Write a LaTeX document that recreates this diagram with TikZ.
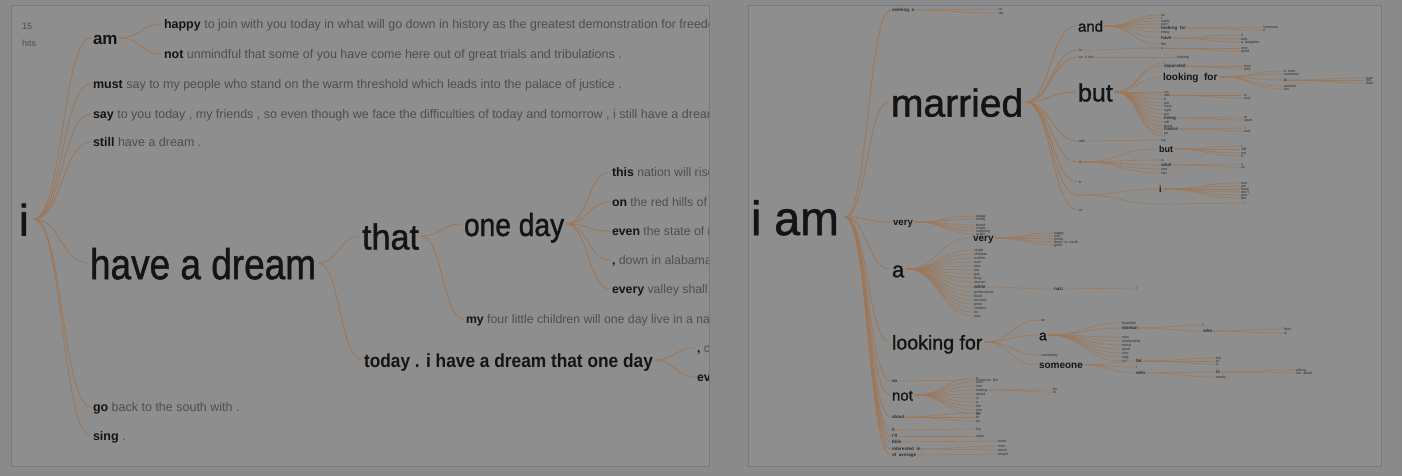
\documentclass[tikz,border=0pt]{standalone}
\usepackage{fontspec}
\setmainfont{Liberation Sans}
\newfontfamily\heavy[FakeBold=1.2]{Liberation Sans}
\usepackage{graphicx}
\usetikzlibrary{calc}
\definecolor{bg}{HTML}{8A8A8A}
\definecolor{panel}{HTML}{8E8E8E}
\definecolor{frame}{HTML}{6C7C8C}
\definecolor{brc}{HTML}{9E7757}
\definecolor{kw}{HTML}{141414}
\definecolor{ctc}{HTML}{4E4E4E}
\definecolor{tk}{HTML}{2E2E2E}
\newcommand\hx[2]{\scalebox{#1}[1]{#2}}
\newcommand\ct[1]{\textcolor{ctc}{\mdseries #1}}
\newcommand\fan[6]{\foreach \yy/\lbl [count=\k] in {#5}{\node[#4] (#3\k) at (#2,\yy) {\lbl}; \draw[#6] (#1.east) to[wt] (#3\k.west);}}
\tikzset{
 w/.style={anchor=west,inner sep=0pt,outer xsep=2pt,execute at begin node={\rule{0pt}{0.75em}},text depth=0pt,text=kw},
 fs/.style={font=\fontsize{#1}{#1}\selectfont},
 fh/.style={font=\heavy\fontsize{#1}{#1}\selectfont},
 fb/.style={font=\fontsize{#1}{#1}\selectfont\bfseries},
 tny/.style={anchor=west,inner sep=0pt,outer xsep=1pt,font=\fontsize{3.6}{3.6}\selectfont,text=tk,text height=2.7pt,text depth=0pt},
 tnyb/.style={tny,font=\fontsize{4.6}{4.6}\selectfont\bfseries,text height=3.4pt},
 br/.style={draw=brc,line width=0.9pt},
 thin/.style={draw=brc,line width=0.6pt},
 wt/.style={to path={let \p1=(\tikztostart),\p2=(\tikztotarget) in .. controls ({0.5*\x1+0.5*\x2},\y1) and ({0.5*\x1+0.5*\x2},\y2) .. (\tikztotarget)}},
}
\begin{document}
\begin{tikzpicture}[x=1pt,y=-1pt]
\useasboundingbox (0,0) rectangle (1402,476);
\fill[bg] (0,0) rectangle (1402,476);
\filldraw[fill=panel,draw=frame,line width=1pt] (11.5,5.5) rectangle (709,466.5);
\filldraw[fill=panel,draw=frame,line width=1pt] (748,5.5) rectangle (1381,466.5);
% ---------------- left panel ----------------
\begin{scope}
\clip (12,6) rectangle (708.5,466);
\node[w,fs=9,text=ctc] (n15) at (20,26) {15};
\node[w,fs=9,text=ctc] (hits) at (20,43) {hits};
\node[w,fh=44,outer xsep=5pt] (i) at (14,219) {i};
\node[w,fb=17] (am) at (91,38) {am};
\node[w,fb=12.5] (happy) at (162,24) {happy\ct{ to join with you today in what will go down in history as the greatest demonstration for freedom in the history of our nation .}};
\node[w,fb=12.5] (not) at (162,54) {not\ct{ unmindful that some of you have come here out of great trials and tribulations .}};
\node[w,fb=12.5] (must) at (91,84) {must\ct{ say to my people who stand on the warm threshold which leads into the palace of justice .}};
\node[w,fb=12.5] (say) at (91,114) {say\ct{ to you today , my friends , so even though we face the difficulties of today and tomorrow , i still have a dream .}};
\node[w,fb=12.5] (still) at (91,142) {still\ct{ have a dream .}};
\node[w,fh=43] (dream) at (88,263) {\hx{0.86}{have a dream}};
\node[w,fb=12.5] (go) at (91,407) {go\ct{ back to the south with .}};
\node[w,fb=12.5] (sing) at (91,436) {sing\ct{ .}};
\node[w,fh=36] (that) at (360,236) {\hx{0.95}{that}};
\node[w,fh=32] (oneday) at (462,224) {\hx{0.88}{one day}};
\node[w,fb=12.3] (this) at (610,172) {this\ct{ nation will rise up and live out the true meaning of its creed .}};
\node[w,fb=12.3] (on) at (610,202) {on\ct{ the red hills of georgia the sons of former slaves}};
\node[w,fb=12.3] (even) at (610,231) {even\ct{ the state of mississippi}};
\node[w,fb=12.3] (down) at (610,260) {,\ct{ down in alabama}};
\node[w,fb=12.3] (every) at (610,289) {every\ct{ valley shall be exalted}};
\node[w,fb=12.3] (my) at (464,319) {my\ct{ four little children will one day live in a nation}};
\node[w,fb=19] (today) at (362,360) {\hx{0.91}{today . i have a dream that one day}};
\node[w,fb=12.3] (cc) at (695,348) {,\ct{ c}};
\node[w,fb=12.3] (ev) at (695,377) {every\ct{ valley}};
\foreach \ch in {am,must,say,still,dream,go,sing} \draw[br] (i.east) to[wt] (\ch.west);
\foreach \ch in {happy,not} \draw[br] (am.east) to[wt] (\ch.west);
\foreach \ch in {that,today} \draw[br] (dream.east) to[wt] (\ch.west);
\foreach \ch in {oneday,my} \draw[br] (that.east) to[wt] (\ch.west);
\foreach \ch in {this,on,even,down,every} \draw[br] (oneday.east) to[wt] (\ch.west);
\foreach \ch in {cc,ev} \draw[br] (today.east) to[wt] (\ch.west);
\end{scope}
% ---------------- right panel ----------------
\node[w,fh=48,outer xsep=6pt] (iam) at (745,217) {\hx{0.97}{i am}};
\node[tnyb] (seek) at (891,10) {seeking\ \ a};
\node[w,fh=39] (married) at (889,102) {\hx{1.0}{married}};
\node[w,fb=9.7] (very) at (891,222) {very};
\node[w,fh=22] (a) at (890,269) {a};
\node[w,fh=20] (lookfor) at (890,342) {\hx{0.98}{looking for}};
\node[w,fh=15] (rnot) at (890,395) {not};
\foreach \ch in {seek,married,very,a,lookfor,rnot} \draw[br] (iam.east) to[wt] (\ch.west);
\fan{iam}{891}{r}{tnyb}{381/an,417/about,430/it,436/i'll,442/Ellie,449/interested\ \ in,455/of\ \ average}{br}
\fan{seek}{997}{sk}{tny}{9/co.,13/city}{thin}
% married
\node[w,fh=15] (and) at (1076,26) {and};
\node[w,fh=25] (but) at (1076,92) {but};
\foreach \ch in {and,but} \draw[br] (married.east) to[wt] (\ch.west);
\fan{married}{1078}{m}{tny}{50/to,57/so\ \ if\ \ the,141/with,162/it,182/b,195/--,210/or}{br}
\fan{m1}{1160}{ma}{tny}{48/a}{thin}
\fan{ma1}{1240}{mb}{tny}{48/very,51/good}{thin}
\fan{m2}{1176}{mc}{tny}{57/nothing}{thin}
\fan{m3}{1160}{md}{tny}{140/my}{thin}
\node[w,fb=9] (but2) at (1157,149) {but};
\node[tnyb] (what) at (1160,165) {what};
\foreach \ch in {but2,what} \draw[thin] (m4.east) to[wt] (\ch.west);
\fan{m4}{1160}{me}{tny}{160/is,169/was,173/has}{thin}
\fan{but2}{1240}{mf}{tny}{146/i,149/still,153/not,156/it}{thin}
\fan{what}{1240}{mg}{tny}{164/a,167/an}{thin}
\node[w,fb=9] (ri) at (1157,189) {i};
\node[tny] (dot) at (1160,204) {.};
\foreach \ch in {ri,dot} \draw[thin] (m6.east) to[wt] (\ch.west);
\fan{ri}{1240}{mh}{tny}{183/love,186/am,189/have,192/don't,195/was,198/like}{thin}
\fan{dot}{1243}{mi}{tny}{203/i}{thin}
% and
\fan{and}{1160}{an}{tny}{15/so,18/i,21/really,24/love,32/enjoy,44/like}{thin}
\node[tnyb] (andlf) at (1160,28) {looking\ \ for};
\node[tnyb] (andhv) at (1160,38) {have};
\foreach \ch in {andlf,andhv} \draw[thin] (and.east) to[wt] (\ch.west);
\fan{andlf}{1262}{al}{tny}{27/someone,30/a}{thin}
\fan{andhv}{1240}{ah}{tny}{35/2,39/kids,42/a\ \ daughter}{thin}
% but
\fan{but}{1163}{bu}{tny}{63/i,92/i'm,99/it,103/not,106/have,110/right,114/my,122/still,126/ready,133/no,136/i}{thin}
\node[tnyb] (sep) at (1163,66) {separated};
\node[tny] (wife) at (1163,95) {wife};
\node[tnyb] (living) at (1163,118) {living};
\node[tnyb] (france) at (1163,129) {france};
\node[w,fb=10] (blf) at (1161,77) {looking\ \ for};
\foreach \ch in {sep,wife,living,france,blf} \draw[thin] (but.east) to[wt] (\ch.west);
\fan{sep}{1243}{sp}{tny}{66/from,69/and}{thin}
\fan{wife}{1243}{wf}{tny}{95/is,98/and}{thin}
\fan{living}{1243}{lv}{tny}{117/in,120/apart}{thin}
\fan{france}{1243}{fr}{tny}{128/i,131/and}{thin}
\node[tnyb] (bla) at (1283,80) {a};
\draw[thin] (blf.east) to[wt] (bla.west);
\fan{blf}{1283}{bl}{tny}{71/a\ \ man,74/someone,86/another,89/fun}{thin}
\fan{bla}{1365}{bm}{tny}{78/man,80/fun,83/date}{thin}
% very / a
\fan{very}{975}{vy}{tny}{216/happy,219/lonely,225/bored,228/single,231/outgoing,234/active}{thin}
\node[w,fb=10] (very2) at (971,238) {very};
\node[tnyb] (white) at (973,287) {white};
\foreach \ch in {very2,white} \draw[thin] (a.east) to[wt] (\ch.west);
\fan{a}{973}{aa}{tny}{250/single,254/christian,258/mother,262/man,266/nice,270/fun,274/gay,278/busy,282/woman,292/professional,296/black,300/recently,304/great,308/student,312/lot,316/new}{thin}
\fan{very2}{1053}{vv}{tny}{233/happy,236/nice,239/lonely,242/down\ \ to\ \ earth,245/good}{thin}
\node[tnyb] (nazi) at (1053,289) {nazi};
\draw[thin] (white.east) to[wt] (nazi.west);
\fan{nazi}{1135}{nz}{tny}{288/i}{thin}
% looking for
\node[tny] (lfan) at (1040,320) {an};
\node[w,fh=14] (la) at (1037,335) {a};
\node[tny] (lfsth) at (1040,355) {something};
\node[w,fb=10] (someone) at (1037,365) {someone};
\foreach \ch in {lfan,la,lfsth,someone} \draw[thin] (lookfor.east) to[wt] (\ch.west);
\node[tny] (beau) at (1121,323) {beautiful};
\node[tnyb] (woman) at (1121,328) {woman};
\foreach \ch in {beau,woman} \draw[thin] (la.east) to[wt] (\ch.west);
\fan{la}{1121}{lw}{tny}{337/man,341/relationship,345/friend,349/good,353/nice,357/lady,361/girl}{thin}
\node[tny] (wone) at (1201,325) {1};
\node[tnyb] (who) at (1202,331) {who};
\foreach \ch in {wone,who} \draw[thin] (woman.east) to[wt] (\ch.west);
\fan{who}{1283}{wh}{tny}{329/likes,333/is}{thin}
\node[tnyb] (sfor) at (1135,361) {for};
\node[tny] (stwo) at (1135,367) {i};
\node[tnyb] (swho) at (1135,373) {who};
\foreach \ch in {sfor,stwo,swho} \draw[thin] (someone.east) to[wt] (\ch.west);
\fan{sfor}{1215}{sf}{tny}{358/fun,361/to,364/a}{thin}
\node[tnyb] (sis) at (1215,372) {is};
\node[tny] (sne) at (1215,377) {needs};
\foreach \ch in {sis,sne} \draw[thin] (swho.east) to[wt] (\ch.west);
\fan{sis}{1295}{si}{tny}{370/willing,373/not\ \ afraid}{thin}
% not
\node[tny] (nlook) at (975,390) {looking};
\draw[thin] (rnot.east) to[wt] (nlook.west);
\fan{rnot}{975}{nt}{tny}{378/a,382/sure,386/into,394/afraid,398/in,402/a,406/the,410/one,414/so}{thin}
\fan{nlook}{1052}{nl}{tny}{389/for,392/to}{thin}
% small children of i am
\fan{r1}{975}{ra}{tny}{380/someone\ \ like}{thin}
\fan{r2}{975}{rb}{tny}{413/the,417/to,421/as}{thin}
\fan{r3}{975}{rc}{tny}{429/fun}{thin}
\fan{r4}{975}{rd}{tny}{436/open}{thin}
\fan{r5}{997}{re}{tny}{441/loves}{thin}
\fan{r6}{997}{rf}{tny}{446/men,450/travel}{thin}
\fan{r7}{997}{rg}{tny}{454/height}{thin}
\end{tikzpicture}
\end{document}
